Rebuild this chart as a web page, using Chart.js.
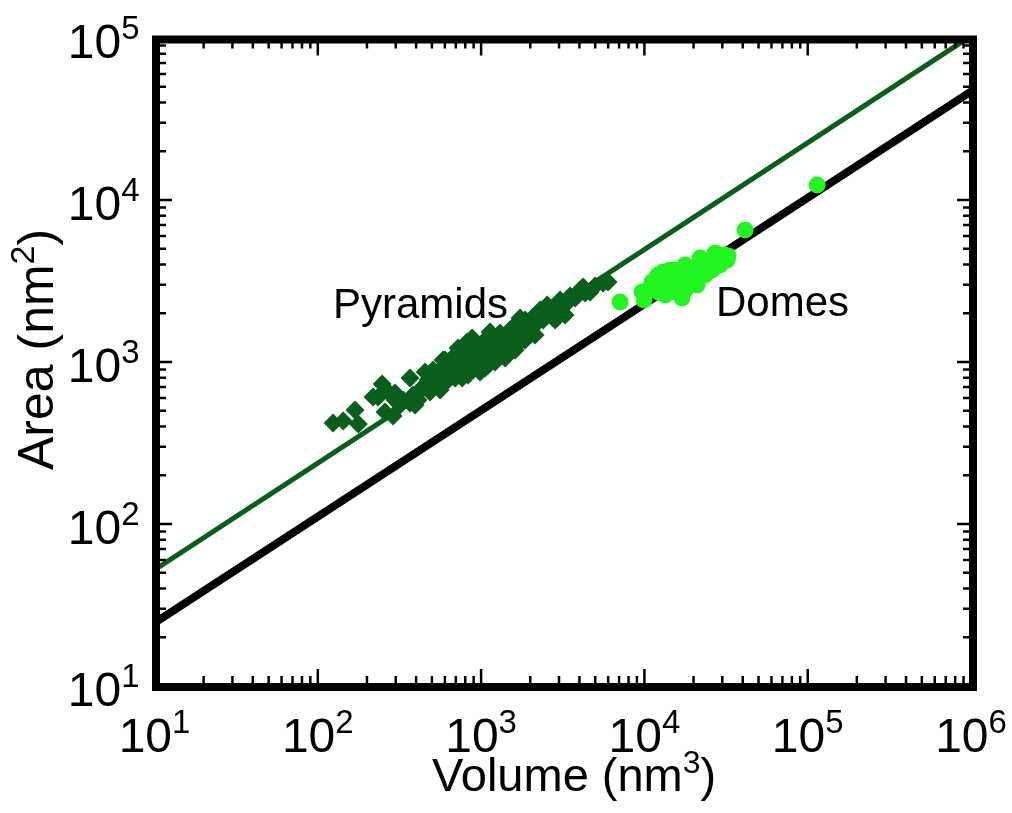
<!DOCTYPE html>
<html>
<head>
<meta charset="utf-8">
<title>Area vs Volume</title>
<script src="https://cdn.jsdelivr.net/npm/chart.js@4.4.0/dist/chart.umd.min.js"></script>
<style>
  html, body { margin: 0; padding: 0; background: #fff; }
</style>
</head>
<body>
<canvas id="myChart" width="1012" height="813"></canvas>
<script>
// pyramids: volume (nm^3) / area (nm^2)
const pyrVolume = [124, 143, 169, 177, 234, 248, 270, 258, 289, 319, 333, 367, 383, 423, 454, 487, 508, 545, 585, 602,
  628, 664, 693, 723, 744, 765, 798, 821, 856, 881, 919, 958, 986, 1014, 1058, 1104, 1135, 1168, 1218, 1271,
  1307, 1364, 1422, 1505, 1548, 1615, 1685, 1733, 1860, 1940, 2053, 2141, 2298, 2398, 2537, 2645, 2840, 3047, 3268, 3508,
  3764, 4039, 4213, 4651, 4991, 5585, 5993, 1733, 693, 561, 474, 411, 297, 218, 297, 367, 798, 1058, 1307, 1995,
  2466, 602, 454, 3047, 693, 833, 1058, 1218, 1403, 1615, 1860, 2141, 958, 881, 1307, 1104, 723, 561, 487, 394,
  646, 3268, 2840, 4335, 2234, 1733, 1505];
const pyrArea = [420, 432, 505, 414, 608, 731, 653, 491, 464, 543, 583, 796, 626, 672, 721, 831, 892, 752, 1029, 868,
  774, 958, 868, 1059, 918, 796, 1153, 1329, 1029, 892, 1186, 1000, 868, 1273, 1105, 958, 1532, 1220, 1367, 1059,
  1153, 1406, 1273, 1576, 1367, 1692, 1468, 1329, 1817, 1576, 1869, 1692, 2094, 1817, 2248, 1951, 2035, 2413, 2248, 2555,
  2484, 2782, 2904, 2705, 2945, 3074, 3118, 1869, 1105, 892, 774, 583, 583, 608, 644, 558, 958, 1367, 1273, 1692,
  1951, 1029, 868, 2094, 796, 831, 918, 1000, 1059, 1186, 1367, 1468, 1273, 1406, 1510, 1186, 1220, 672, 653, 543,
  868, 1951, 1817, 2666, 1869, 1576, 1273];

// domes
const domeVolume = [7099, 9958, 10536, 11147, 12478, 13018, 13967, 14779, 15635, 16541, 17015, 17750, 18517, 19044, 20150,
  21020, 21930, 23204, 24548, 25972, 27480, 29075, 30760, 32094, 41375, 114180, 12131, 15417, 13391, 23862,
  21317, 17502, 14366, 16779, 12131, 14366, 17750, 21930, 27098, 32546, 23533, 27098, 14779, 9681, 12837];
const domeArea = [2346, 2413, 2782, 3118, 3300, 3594, 2987, 3443, 3698, 3208, 2484, 2782, 3804, 3300, 3594,
  2987, 3971, 3443, 4143, 3698, 4385, 3971, 4576, 4262, 6528, 12377, 2705, 2705, 2592, 3804,
  3300, 3118, 2862, 2705, 3443, 3698, 3971, 4385, 4707, 4511, 3443, 4143, 2987, 2705, 2862];

// A ~ V^(2/3) reference lines, end points
const fitVolume = [10, 1e6];
const domeFitArea = [24.5, 46700];
const pyrFitArea = [52, 103000];

const xExp = [1, 2, 3, 4, 5, 6];
const yExp = [1, 2, 3, 4, 5];

const FONT = '"Liberation Sans", Arial, Helvetica, sans-serif';
const DARK = '#0a5e1b';
const LIGHT = '#22f522';

const pts = (xs, ys) => xs.map((v, i) => ({ x: v, y: ys[i] }));

// draws runs of [text, size, raise] one after another
function richText(ctx, parts, x, y, align) {
  let total = 0;
  const widths = parts.map(p => {
    ctx.font = p[1] + 'px ' + FONT;
    const w = ctx.measureText(p[0]).width;
    total += w;
    return w;
  });
  let cx = x;
  if (align === 'center') cx = x - total / 2;
  if (align === 'right') cx = x - total;
  ctx.textAlign = 'left';
  ctx.textBaseline = 'alphabetic';
  parts.forEach((p, i) => {
    ctx.font = p[1] + 'px ' + FONT;
    ctx.fillText(p[0], cx, y - p[2]);
    cx += widths[i];
  });
}

const framePlugin = {
  id: 'frame',
  afterDatasetsDraw(chart) {
    const { ctx, chartArea: a, scales } = chart;
    const xs = scales.x, ys = scales.y;
    const L = a.left + 1.5, R = a.right + 2, T = a.top + 1.5, B = a.bottom + 1;
    ctx.save();
    ctx.strokeStyle = '#000';
    ctx.lineWidth = 2.5;
    ctx.beginPath();
    xExp.forEach((e, k) => {
      for (let m = 1; m <= 9; m++) {
        if (m > 1 && k === xExp.length - 1) break;
        const px = xs.getPixelForValue(m * Math.pow(10, e));
        const len = m === 1 ? 14 : 7;
        ctx.moveTo(px, B); ctx.lineTo(px, B - 4 - len);
        ctx.moveTo(px, T); ctx.lineTo(px, T + 4 + len - 2);
      }
    });
    yExp.forEach((e, k) => {
      for (let m = 1; m <= 9; m++) {
        if (m > 1 && k === yExp.length - 1) break;
        const py = ys.getPixelForValue(m * Math.pow(10, e));
        const len = m === 1 ? 12 : 6;
        ctx.moveTo(L, py); ctx.lineTo(L + 4 + len, py);
        ctx.moveTo(R, py); ctx.lineTo(R - 4 - len, py);
      }
    });
    ctx.stroke();

    ctx.lineWidth = 8;
    ctx.strokeRect(L, T, R - L, B - T);

    ctx.fillStyle = '#000';
    xExp.forEach(e => {
      const px = xs.getPixelForValue(Math.pow(10, e));
      richText(ctx, [['10', 48, 0], [String(e), 33, 19]], px, a.bottom + 66, 'center');
    });
    yExp.forEach(e => {
      const py = ys.getPixelForValue(Math.pow(10, e));
      richText(ctx, [['10', 48, 0], [String(e), 33, 19]], a.left - 15, py + 20, 'right');
    });

    // axis titles
    richText(ctx, [['Volume (nm', 47, 0], ['3', 32, 18], [')', 47, 0]], 432, 791, 'left');
    ctx.save();
    ctx.translate(53, 470);
    ctx.rotate(-Math.PI / 2);
    richText(ctx, [['Area (nm', 50, 0], ['2', 34, 19], [')', 50, 0]], 0, 0, 'left');
    ctx.restore();

    // group labels
    richText(ctx, [['Pyramids', 42, 0]], 333, 318, 'left');
    richText(ctx, [['Domes', 42, 0]], 716, 316, 'left');
    ctx.restore();
  }
};

new Chart(document.getElementById('myChart'), {
  type: 'scatter',
  data: {
    datasets: [
      {
        label: 'Domes',
        data: pts(domeVolume, domeArea),
        pointStyle: 'circle',
        pointRadius: 8.5,
        backgroundColor: LIGHT,
        borderWidth: 0,
        order: 0
      },
      {
        label: 'Pyramids',
        data: pts(pyrVolume, pyrArea),
        pointStyle: 'rectRot',
        pointRadius: 9.5,
        backgroundColor: DARK,
        borderWidth: 0,
        order: 1
      },
      {
        label: 'dome fit',
        data: pts(fitVolume, domeFitArea),
        showLine: true,
        pointRadius: 0,
        borderColor: '#000',
        borderWidth: 8,
        order: 2
      },
      {
        label: 'pyramid fit',
        data: pts(fitVolume, pyrFitArea),
        showLine: true,
        pointRadius: 0,
        borderColor: DARK,
        borderWidth: 5,
        order: 3
      }
    ]
  },
  options: {
    responsive: false,
    animation: false,
    layout: { padding: { left: 154.5, right: 41, top: 38, bottom: 127 } },
    plugins: { legend: { display: false }, tooltip: { enabled: false } },
    scales: {
      x: { type: 'logarithmic', min: 10, max: 1e6, display: false },
      y: { type: 'logarithmic', min: 10, max: 1e5, display: false }
    }
  },
  plugins: [framePlugin]
});
</script>
</body>
</html>
